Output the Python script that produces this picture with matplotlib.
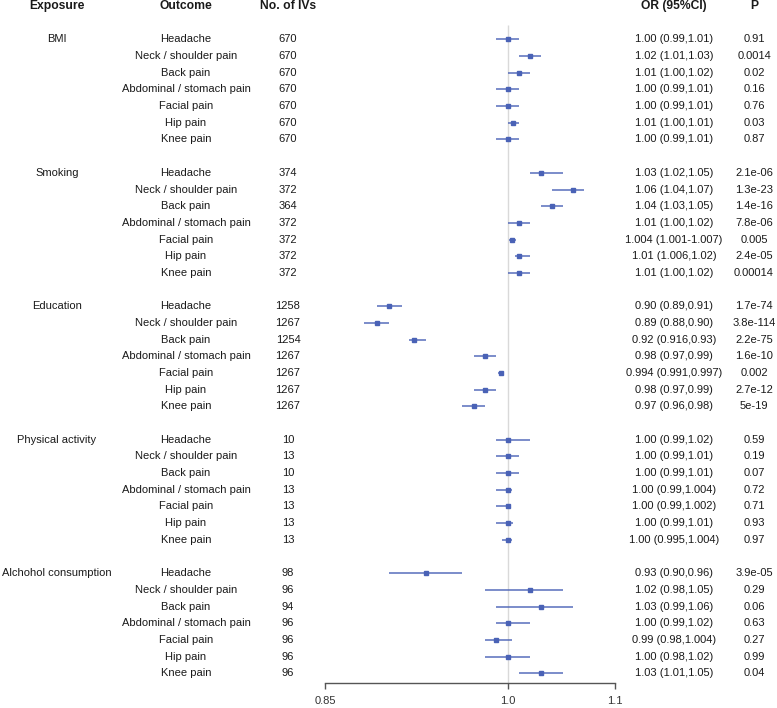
import matplotlib
matplotlib.use("Agg")
import matplotlib.pyplot as plt
import matplotlib.transforms as mtransforms
from matplotlib.ticker import FixedLocator, NullLocator

plt.rcParams['font.family'] = ['Liberation Sans', 'DejaVu Sans']

# ---- data ----
exposures = ["BMI", "Smoking", "Education", "Physical activity", "Alchohol consumption"]
outcomes = ["Headache", "Neck / shoulder pain", "Back pain", "Abdominal / stomach pain",
            "Facial pain", "Hip pain", "Knee pain"]

n_ivs = [670, 670, 670, 670, 670, 670, 670,
         374, 372, 364, 372, 372, 372, 372,
         1258, 1267, 1254, 1267, 1267, 1267, 1267,
         10, 13, 10, 13, 13, 13, 13,
         98, 96, 94, 96, 96, 96, 96]

or_vals = [1.00, 1.02, 1.01, 1.00, 1.00, 1.005, 1.00,
           1.03, 1.06, 1.04, 1.01, 1.004, 1.01, 1.01,
           0.90, 0.89, 0.92, 0.98, 0.994, 0.98, 0.97,
           1.00, 1.00, 1.00, 1.00, 1.00, 1.00, 1.00,
           0.93, 1.02, 1.03, 1.00, 0.99, 1.00, 1.03]

ci_low = [0.99, 1.01, 1.00, 0.99, 0.99, 1.00, 0.99,
          1.02, 1.04, 1.03, 1.00, 1.001, 1.006, 1.00,
          0.89, 0.88, 0.916, 0.97, 0.991, 0.97, 0.96,
          0.99, 0.99, 0.99, 0.99, 0.99, 0.99, 0.995,
          0.90, 0.98, 0.99, 0.99, 0.98, 0.98, 1.01]

ci_high = [1.01, 1.03, 1.02, 1.01, 1.01, 1.01, 1.01,
           1.05, 1.07, 1.05, 1.02, 1.007, 1.02, 1.02,
           0.91, 0.90, 0.93, 0.99, 0.997, 0.99, 0.98,
           1.02, 1.01, 1.01, 1.004, 1.002, 1.005, 1.004,
           0.96, 1.05, 1.06, 1.02, 1.004, 1.02, 1.05]

or_text = ["1.00 (0.99,1.01)", "1.02 (1.01,1.03)", "1.01 (1.00,1.02)", "1.00 (0.99,1.01)",
           "1.00 (0.99,1.01)", "1.01 (1.00,1.01)", "1.00 (0.99,1.01)",
           "1.03 (1.02,1.05)", "1.06 (1.04,1.07)", "1.04 (1.03,1.05)", "1.01 (1.00,1.02)",
           "1.004 (1.001-1.007)", "1.01 (1.006,1.02)", "1.01 (1.00,1.02)",
           "0.90 (0.89,0.91)", "0.89 (0.88,0.90)", "0.92 (0.916,0.93)", "0.98 (0.97,0.99)",
           "0.994 (0.991,0.997)", "0.98 (0.97,0.99)", "0.97 (0.96,0.98)",
           "1.00 (0.99,1.02)", "1.00 (0.99,1.01)", "1.00 (0.99,1.01)", "1.00 (0.99,1.004)",
           "1.00 (0.99,1.002)", "1.00 (0.99,1.01)", "1.00 (0.995,1.004)",
           "0.93 (0.90,0.96)", "1.02 (0.98,1.05)", "1.03 (0.99,1.06)", "1.00 (0.99,1.02)",
           "0.99 (0.98,1.004)", "1.00 (0.98,1.02)", "1.03 (1.01,1.05)"]

p_text = ["0.91", "0.0014", "0.02", "0.16", "0.76", "0.03", "0.87",
          "2.1e-06", "1.3e-23", "1.4e-16", "7.8e-06", "0.005", "2.4e-05", "0.00014",
          "1.7e-74", "3.8e-114", "2.2e-75", "1.6e-10", "0.002", "2.7e-12", "5e-19",
          "0.59", "0.19", "0.07", "0.72", "0.71", "0.93", "0.97",
          "3.9e-05", "0.29", "0.06", "0.63", "0.27", "0.99", "0.04"]

x_ticks = [0.85, 1.0, 1.1]
x_ticklabels = ["0.85", "1.0", "1.1"]

# ---- layout ----
W, H = 777, 708
fig = plt.figure(figsize=(W / 100, H / 100), dpi=100)
ax = fig.add_axes([325 / W, (H - 683) / H, (615 - 325) / W, 683 / H])

# row positions: header at 0, groups of 7 separated by a blank row
rows = []
for g in range(len(exposures)):
    for k in range(len(outcomes)):
        rows.append(2 + g * 8 + k)
last_row = rows[-1]

ax.set_xscale('log')
ax.set_xlim(0.85, 1.1)
ax.set_ylim(last_row + 0.58, -0.36)

blue = '#4a62b6'
ax.vlines(1.0, 1.15, last_row + 0.58, color='#d9d9d9', linewidth=1.0, zorder=1)
ax.hlines(rows, ci_low, ci_high, color=blue, linewidth=1.2, alpha=0.85, zorder=2)
ax.plot(or_vals, rows, linestyle='none', marker='s', markersize=3.3,
        color=blue, zorder=3)

for s in ['top', 'right', 'left']:
    ax.spines[s].set_visible(False)
ax.spines['bottom'].set_color('#555555')
ax.spines['bottom'].set_linewidth(1.0)
ax.xaxis.set_major_locator(FixedLocator(x_ticks))
ax.xaxis.set_minor_locator(NullLocator())
ax.set_xticklabels(x_ticklabels)
ax.tick_params(axis='x', which='major', length=4, width=1.0, color='#555555',
               labelsize=8, labelcolor='#333333', pad=5)
ax.set_yticks([])
ax.patch.set_alpha(0)

# ---- text columns ----
trans = mtransforms.blended_transform_factory(fig.transFigure, ax.transData)
col_exp, col_out, col_iv, col_or, col_p = 57 / W, 186 / W, 288 / W, 674 / W, 754 / W
txt_color = '#1a1a1a'

headers = [(col_exp, "Exposure"), (col_out, "Outcome"), (col_iv, "No. of IVs"),
           (col_or, "OR (95%CI)"), (col_p, "P")]
for x, label in headers:
    ax.text(x, 0, label, transform=trans, ha='center', va='center',
            fontsize=8.7, fontweight='bold', color=txt_color, clip_on=False)

for g, name in enumerate(exposures):
    ax.text(col_exp, 2 + g * 8, name, transform=trans, ha='center', va='center',
            fontsize=8, color=txt_color, clip_on=False)

for i, y in enumerate(rows):
    ax.text(col_out, y, outcomes[i % len(outcomes)], transform=trans, ha='center',
            va='center', fontsize=8, color=txt_color, clip_on=False)
    ax.text(col_iv, y, str(n_ivs[i]), transform=trans, ha='center', va='center',
            fontsize=8, color=txt_color, clip_on=False)
    ax.text(col_or, y, or_text[i], transform=trans, ha='center', va='center',
            fontsize=8, color=txt_color, clip_on=False)
    ax.text(col_p, y, p_text[i], transform=trans, ha='center', va='center',
            fontsize=8, color=txt_color, clip_on=False)

fig.savefig('out.png', dpi=100)
